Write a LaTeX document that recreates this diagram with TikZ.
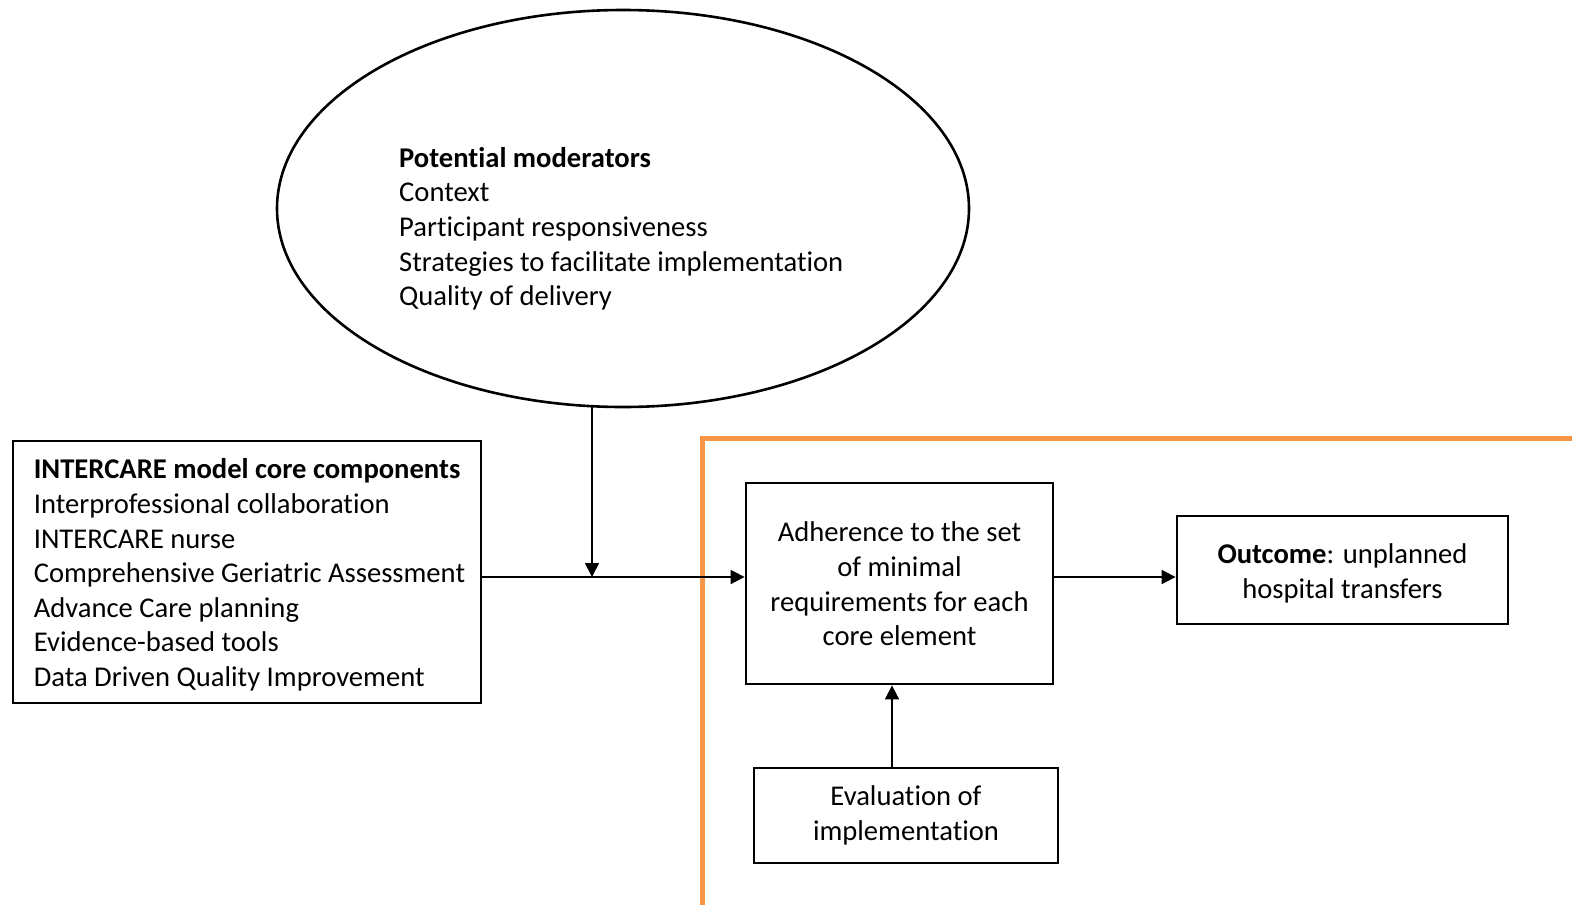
\documentclass[tikz,border=0pt]{standalone}
\usepackage{fontspec}
\setmainfont{Carlito}[RawFeature=-liga]
\usetikzlibrary{arrows.meta,shapes.geometric}
\definecolor{frameorange}{RGB}{247,150,70}
\begin{document}
\begin{tikzpicture}[x=1pt,y=-1pt,
  txt/.style={font=\fontsize{28.6}{34.6}\selectfont,inner sep=0pt},
  box/.style={draw,line width=2.8pt,rectangle,inner sep=0pt},
  arr/.style={line width=1.7pt,-{Triangle[length=14pt,width=14pt]}}]
\useasboundingbox (0,0) rectangle (1572,905);
% orange frame
\draw[frameorange,line width=5pt,line join=miter] (1580,438) -- (702,438) -- (702,910);
% moderators ellipse
\node[ellipse,draw,line width=2.6pt,minimum width=692pt,minimum height=397pt,inner sep=0pt] (mod) at (623,208.5) {};
\node[txt,anchor=north west,align=left] (modtxt) at (399,147)
 {\textbf{Potential moderators}\\Context\\Participant responsiveness\\Strategies to facilitate implementation\\Quality of delivery};
% core components
\node[box,minimum width=468pt,minimum height=262pt] (core) at (247,572) {};
\node[txt,align=left,anchor=west] (coretxt) at ([xshift=22pt,yshift=-3pt]core.west)
 {\textbf{INTERCARE model core components}\\Interprofessional collaboration\\INTERCARE nurse\\Comprehensive Geriatric Assessment\\Advance Care planning\\Evidence-based tools\\Data Driven Quality Improvement};
% adherence
\node[box,minimum width=307pt,minimum height=201pt] (mid) at (899.5,583.5) {};
\node[txt,align=center] (midtxt) at ([yshift=-0.5pt]mid.center)
 {Adherence to the set\\of minimal\\requirements for each\\core element};
% outcome
\node[box,minimum width=331pt,minimum height=108pt] (out) at (1342.5,570) {};
\node[txt,align=center] (outtxt) at ([yshift=-3.5pt]out.center)
 {\textbf{Outcome}: unplanned\\hospital transfers};
% evaluation
\node[box,minimum width=304pt,minimum height=95pt] (eval) at (906,815.5) {};
\node[txt,align=center] (evaltxt) at (eval.center)
 {Evaluation of\\implementation};
% connectors
\coordinate (j) at (592,577);
\coordinate (k) at (892,0);
\draw[arr] (j |- mod.261) -- (j);
\draw[arr] (core.east |- j) -- (mid.west |- j);
\draw[arr] (mid.east |- j) -- (out.west |- j);
\draw[arr] (k |- eval.north) -- (k |- mid.south);
\end{tikzpicture}
\end{document}
